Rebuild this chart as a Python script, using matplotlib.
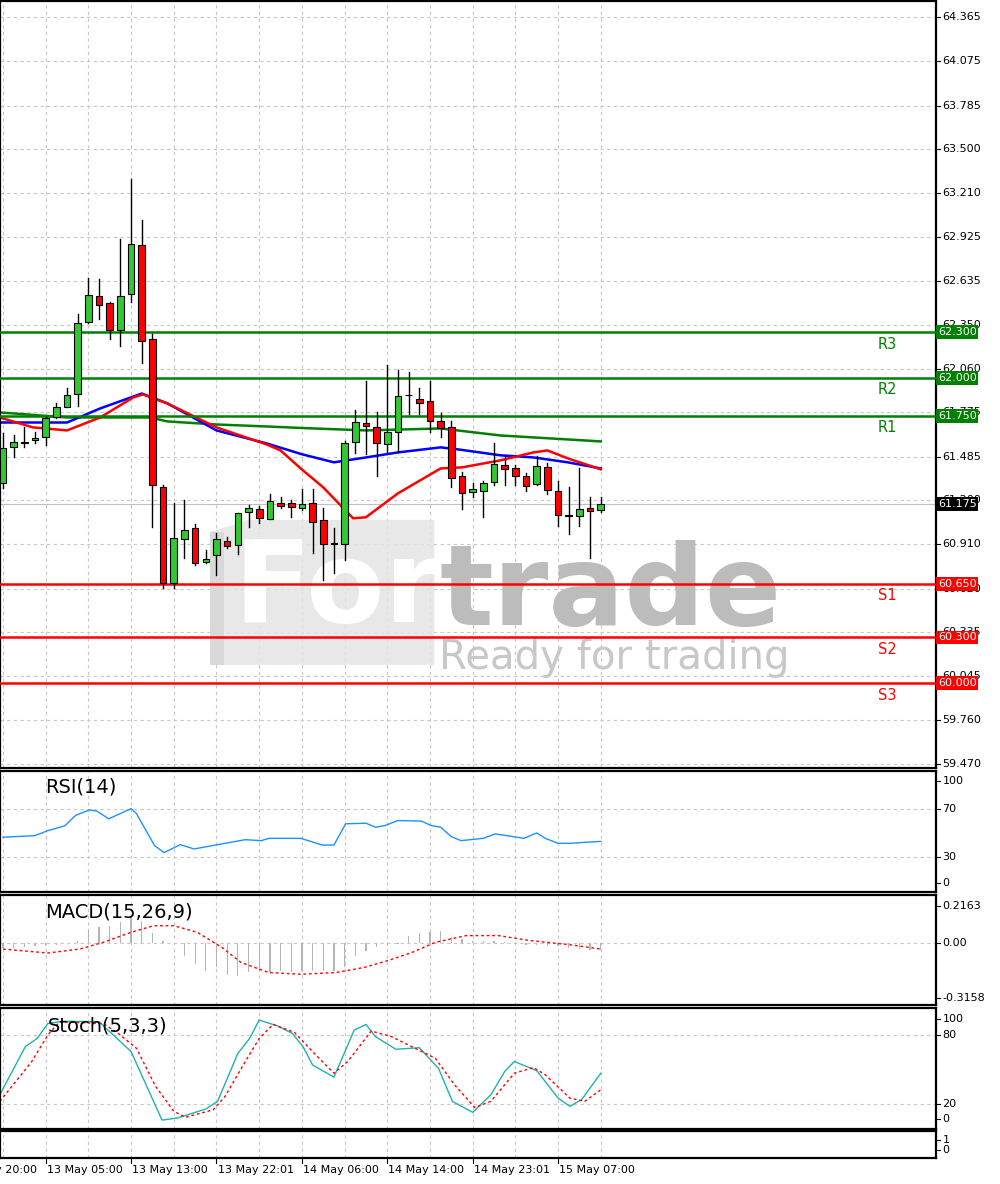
import matplotlib
matplotlib.use("Agg")
import matplotlib.pyplot as plt
import matplotlib.transforms as mtrans
from matplotlib.patches import Rectangle, Polygon
import numpy as np

opens = [61.309,61.545,61.575,61.591,61.610,61.741,61.807,61.898,62.369,62.540,62.494,62.311,62.553,62.873,62.252,61.283,
         60.655,60.943,61.015,60.792,60.838,60.930,60.904,61.120,61.139,61.074,61.178,61.178,61.146,61.178,61.067,60.917,
         60.910,61.578,61.702,61.676,61.564,61.649,61.885,61.859,61.852,61.715,61.676,61.355,61.250,61.257,61.316,61.427,
         61.407,61.355,61.303,61.414,61.257,61.100,61.093,61.146,61.133]
highs = [61.636,61.623,61.676,61.643,61.741,61.839,61.931,62.422,62.657,62.651,62.500,62.913,63.305,63.037,62.291,61.296,
         61.178,61.198,61.041,60.871,60.982,60.956,61.113,61.165,61.159,61.237,61.218,61.198,61.270,61.270,61.146,61.015,
         61.584,61.793,61.977,61.774,62.088,62.055,62.042,61.931,61.977,61.767,61.715,61.381,61.309,61.322,61.571,61.486,
         61.427,61.375,61.486,61.440,61.322,61.283,61.407,61.218,61.218]
lows = [61.277,61.479,61.545,61.571,61.558,61.735,61.807,61.813,62.363,62.389,62.258,62.212,62.500,62.101,61.021,60.622,
        60.622,60.819,60.773,60.786,60.707,60.884,60.845,61.021,61.047,61.074,61.146,61.087,61.133,60.851,60.675,60.720,
        60.805,61.506,61.499,61.355,61.512,61.512,61.761,61.761,61.643,61.610,61.283,61.139,61.218,61.087,61.296,61.296,
        61.296,61.257,61.296,61.237,61.028,60.975,61.028,60.819,61.120]
closes = [61.538,61.578,61.580,61.604,61.735,61.807,61.885,62.363,62.546,62.481,62.311,62.540,62.880,62.239,61.296,60.655,
          60.949,61.002,60.786,60.812,60.943,60.897,61.113,61.146,61.080,61.191,61.159,61.152,61.172,61.054,60.910,60.915,
          61.571,61.708,61.682,61.571,61.643,61.879,61.887,61.839,61.715,61.669,61.342,61.244,61.270,61.309,61.434,61.401,
          61.355,61.290,61.420,61.263,61.100,61.098,61.139,61.126,61.175]

ma_fast_x = [-0.3,2.8,6,9.1,12.2,13.1,15.4,20,24.7,26,28,30,32.8,34,37,41,43,46.6,49.7,51,52.9,56]
ma_fast_y = [61.741,61.676,61.656,61.741,61.872,61.892,61.833,61.676,61.564,61.525,61.40,61.283,61.080,61.087,61.244,61.407,61.414,61.460,61.512,61.525,61.473,61.401]
ma_mid_x = [-0.3,6,9.1,13,15.4,20,24.7,28,31,34,37,41,42.6,46.6,49.7,52.9,56]
ma_mid_y = [61.708,61.708,61.800,61.898,61.833,61.656,61.571,61.500,61.447,61.479,61.512,61.545,61.532,61.493,61.479,61.447,61.407]
ma_slow_x = [-0.3,6,13.8,15.4,20,24.7,28,34,41,46.6,52.9,56]
ma_slow_y = [61.774,61.741,61.741,61.715,61.695,61.682,61.672,61.656,61.669,61.623,61.597,61.584]

res_levels = [62.300, 62.000, 61.750]; res_names = ["R3", "R2", "R1"]
sup_levels = [60.650, 60.300, 60.000]; sup_names = ["S1", "S2", "S3"]
last_price = 61.175
price_ticks = [64.365,64.075,63.785,63.500,63.210,62.925,62.635,62.350,62.060,61.775,61.485,61.200,60.910,60.620,60.335,60.045,59.760,59.470]

rsi_x = [0,3,4.2,5.8,6.8,8.1,8.8,9.9,12,12.5,14.2,15.1,16.6,17.9,20.1,22.7,24.2,24.9,27.9,29.9,31,32.1,34,34.9,35.8,37,39.2,40.1,41,42,42.9,45,46.1,47.2,48.8,50,50.8,52,53.1,54.5,56]
rsi_y = [46.6,47.9,52,56,64.5,69,68,61.7,70,66,39.7,34,40.5,37,40.5,44.6,43.8,45.7,45.7,40.2,40.2,57.6,58.1,54.8,56.2,60.3,59.8,56.2,54.8,47.1,43.8,45.7,49.3,47.9,45.7,50.1,45.7,41.6,41.6,42.4,43.2]

macd_hist = [-0.03,-0.03,-0.025,-0.02,-0.015,-0.01,0.0,0.01,0.076,0.09,0.10,0.12,0.15,0.13,0.06,0.014,0.0,-0.074,-0.12,-0.16,
             -0.14,-0.185,-0.19,-0.17,-0.16,-0.17,-0.16,-0.17,-0.16,-0.16,-0.16,-0.16,-0.14,-0.074,-0.045,-0.025,-0.015,-0.006,
             0.043,0.056,0.062,0.068,0.033,0.023,0.014,0.01,0.01,0.004,-0.005,-0.01,-0.01,-0.015,-0.02,-0.03,-0.035,-0.04,-0.04]
macd_sig_x = [0,4.2,7.2,9.4,12,14.1,16,18.2,20.5,22.3,24.9,27.9,31.2,33.8,36,38.3,40.5,43.4,46.4,49.4,53.1,56]
macd_sig_y = [-0.035,-0.058,-0.035,0.004,0.062,0.10,0.10,0.062,-0.025,-0.113,-0.171,-0.181,-0.171,-0.142,-0.103,-0.055,0.004,0.043,0.043,0.014,-0.01,-0.035]

st_main_x = [-0.3,2.1,3.2,4.2,5.6,9,10.5,12,14.9,16.4,19,20.1,22,23.1,24,25.7,27.1,28.1,29,31,32.9,34,34.9,36.8,39,40.8,42.1,44,45.7,47,47.9,50,52,53.1,54.2,56]
st_main_y = [28,70,77,90,92,91.5,78.6,65.6,6,8,15.7,22.3,64,77,93,88,81.4,70,54,43.4,84.3,89.2,78.6,67.6,69,51,22.3,12.8,28,48.3,57,49,25.2,18,23.8,46.8]
st_sig_x = [-0.3,1.2,2.7,4.2,5.3,9.4,10.8,12.5,14.3,16,17.1,19.7,20.8,22.7,24,25.3,27.3,29,31,32.3,34.5,36.4,38.6,40.5,42.3,44.2,45.7,47.9,49.7,50.8,53.1,54.5,56]
st_sig_y = [22.3,39.6,57,80,91.5,90,81.4,68.5,35.3,13.7,8.5,15,26.6,57,77,89.2,82.3,65.6,46.8,57,83.5,78.6,68.5,59.8,36.7,17,22.3,46.8,51.7,45.4,25.2,22.3,32.4]

date_labels = ["12 May 20:00","13 May 05:00","13 May 13:00","13 May 22:01","14 May 06:00","14 May 14:00","14 May 23:01","15 May 07:00"]
date_idx = [-4,4,12,20,28,36,44,52]

W, H = 1000, 1184
fig = plt.figure(figsize=(10, 11.84), dpi=100)
plt.rcParams['font.family'] = ['DejaVu Sans']
XL = (-0.28, 87.4)
AXW = 936 / W
def mk(top, bot):
    return fig.add_axes([0, 1 - bot / H, AXW, (bot - top) / H])
ax = mk(1, 768); ar = mk(771, 892); am = mk(895, 1005); ast = mk(1008, 1129); ae = mk(1131, 1158)
GC = '#c8c8c8'
for a in (ax, ar, am, ast, ae):
    a.set_xlim(*XL)
    for s in a.spines.values():
        s.set_linewidth(1.6); s.set_color('black')
    a.set_xticks([])
    a.set_yticks([])
    for v in range(0, 57, 4):
        a.axvline(v, color=GC, ls=(0, (3, 3)), lw=0.8, zorder=0)
    a.set_facecolor('white')

def rlabel(a, y, s, **kw):
    tr = mtrans.blended_transform_factory(a.transAxes, a.transData)
    a.text(1.007, y, s, transform=tr, fontsize=8, va='center', ha='left', clip_on=False, **kw)
    a.plot([1.0, 1.004], [y, y], transform=tr, color='black', lw=0.8, clip_on=False)

# main
ax.set_ylim(59.444, 64.470)
for p in price_ticks:
    ax.axhline(p, color=GC, ls=(0, (3, 3)), lw=0.8, zorder=0)
    rlabel(ax, p, f"{p:.3f}")
# watermark
ax.add_patch(Polygon([[19.4, 60.12], [19.4, 60.99], [23.0, 61.07], [40.4, 61.07], [40.4, 60.12]],
                     closed=True, color='#e4e4e4', alpha=0.85, zorder=0.5, lw=0))
ax.add_patch(Rectangle((19.4, 60.12), 1.3, 0.87, color='#d6d6d6', alpha=0.8, zorder=0.55, lw=0))
ax.text(21.6, 60.40, "For", fontsize=82, fontweight='bold', color='white', ha='left', va='baseline', zorder=0.6)
ax.text(40.9, 60.38, "trade", fontsize=81, fontweight='bold', color='#bcbcbc', ha='left', va='baseline', zorder=0.6)
ax.text(40.8, 60.095, "Ready for trading", fontsize=29, color='#c8c8c8', ha='left', va='baseline', zorder=0.6)

# MAs
ax.plot(ma_slow_x, ma_slow_y, color='#008000', lw=1.8, zorder=2)
ax.plot(ma_mid_x, ma_mid_y, color='#0000ff', lw=1.8, zorder=2)
ax.plot(ma_fast_x, ma_fast_y, color='#ff0000', lw=1.8, zorder=2)

# levels
tr = mtrans.blended_transform_factory(ax.transAxes, ax.transData)
for lvls, names, col in ((res_levels, res_names, '#008000'), (sup_levels, sup_names, '#ff0000')):
    for lv, nm in zip(lvls, names):
        ax.axhline(lv, color=col, lw=1.8, zorder=3)
        ax.text(878 / 936, lv - 0.078, nm, transform=tr, color=col, fontsize=10.5, ha='left', va='center')
        ax.text(1.002, lv, f"{lv:.3f}", transform=tr, color='white', fontsize=8, va='center', ha='left', zorder=10,
                clip_on=False, bbox=dict(boxstyle='square,pad=0.15', fc=col, ec='none'))
ax.axhline(last_price, color='#c0c0c0', lw=0.8, zorder=1)
ax.text(1.002, last_price, f"{last_price:.3f}", transform=tr, color='white', fontsize=8, va='center', ha='left', zorder=10,
        clip_on=False, bbox=dict(boxstyle='square,pad=0.15', fc='black', ec='none'))

# candles
bw = 0.62
for i, (o, h, l, c) in enumerate(zip(opens, highs, lows, closes)):
    col = '#32c832' if c >= o else '#ff0000'
    ax.plot([i, i], [l, h], color='black', lw=1.0, zorder=4)
    b = min(o, c); hgt = max(abs(c - o), 0.004)
    ax.add_patch(Rectangle((i - bw / 2, b), bw, hgt, fc=col, ec='black', lw=0.8, zorder=5))

# RSI
ar.set_ylim(1.7, 100.9)
for v in (70, 30):
    ar.axhline(v, color=GC, ls=(0, (3, 3)), lw=0.8, zorder=0)
ar.plot(rsi_x, rsi_y, color='#1e90ff', lw=1.0)
for y, s in ((93, "100"), (70, "70"), (30, "30"), (9, "0")):
    rlabel(ar, y, s)
ar.text(45 / 936, 0.87, "RSI(14)", transform=ar.transAxes, fontsize=14, va='center')

# MACD
am.set_ylim(-0.359, 0.278)
am.axhline(0, color=GC, ls=(0, (3, 3)), lw=0.8, zorder=0)
am.bar(range(len(macd_hist)), macd_hist, width=0.12, color='#b4b4b4')
am.plot(macd_sig_x, macd_sig_y, color='#ff0000', lw=1.0, ls=(0, (2, 2)))
for y, s in ((0.2163, "0.2163"), (0.0, "0.00"), (-0.3158, "-0.3158")):
    rlabel(am, y, s)
am.text(45 / 936, 0.85, "MACD(15,26,9)", transform=am.transAxes, fontsize=14, va='center')

# Stoch
ast.set_ylim(-1.7, 103.5)
for v in (80, 20):
    ast.axhline(v, color=GC, ls=(0, (3, 3)), lw=0.8, zorder=0)
ast.plot(st_main_x, st_main_y, color='#20b2aa', lw=1.0)
ast.plot(st_sig_x, st_sig_y, color='#ff0000', lw=1.0, ls=(0, (2, 2)))
for y, s in ((94, "100"), (80, "80"), (20, "20"), (7, "0")):
    rlabel(ast, y, s)
ast.text(48 / 936, 0.85, "Stoch(5,3,3)", transform=ast.transAxes, fontsize=14, va='center')

# empty panel
ae.set_ylim(0, 1)
for y, s in ((0.68, "1"), (0.3, "0")):
    rlabel(ae, y, s)

# dates
trd = mtrans.blended_transform_factory(ae.transData, fig.transFigure)
for d, s in zip(date_idx, date_labels):
    ae.plot([d, d], [1 - 1158 / H, 1 - 1163 / H], transform=trd, color='black', lw=0.8, clip_on=False)
    ae.text(d + 0.1, 1 - 1170 / H, s, transform=trd, fontsize=8, ha='left', va='center', clip_on=False)

fig.savefig("out.png", dpi=100)
